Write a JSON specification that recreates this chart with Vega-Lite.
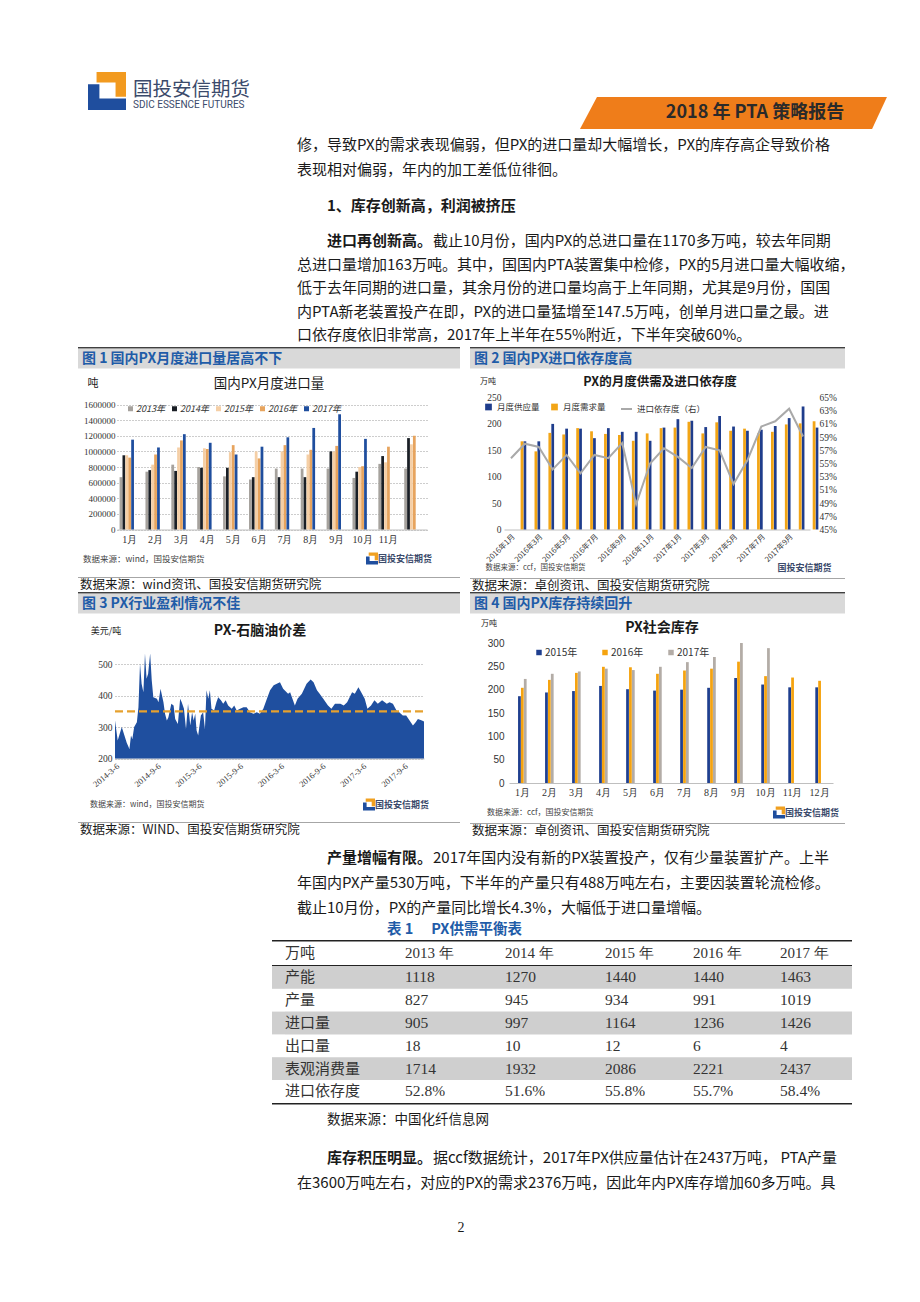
{
"$schema": "https://vega.github.io/schema/vega-lite/v6.json",
"background": "white",
"padding": {"left": 78, "top": 72, "right": 0, "bottom": 0},
"config": {
  "view": {"stroke": null},
  "font": "Noto Sans CJK SC",
  "text": {"font": "Noto Sans CJK SC", "color": "#1a1a1a"},
  "axis": {"labelColor": "#333333", "domainColor": "#bfbfbf", "ticks": false, "labelFont": "Liberation Serif"},
  "legend": {"labelFont": "Noto Sans CJK SC", "labelColor": "#333333"}
},
"datasets": {
  "imp": [
    {"m":"1月","yr":"2013年","v":670000},{"m":"1月","yr":"2014年","v":950000},{"m":"1月","yr":"2015年","v":950000},{"m":"1月","yr":"2016年","v":920000},{"m":"1月","yr":"2017年","v":1150000},
    {"m":"2月","yr":"2013年","v":740000},{"m":"2月","yr":"2014年","v":760000},{"m":"2月","yr":"2015年","v":830000},{"m":"2月","yr":"2016年","v":960000},{"m":"2月","yr":"2017年","v":1050000},
    {"m":"3月","yr":"2013年","v":830000},{"m":"3月","yr":"2014年","v":750000},{"m":"3月","yr":"2015年","v":1050000},{"m":"3月","yr":"2016年","v":1140000},{"m":"3月","yr":"2017年","v":1220000},
    {"m":"4月","yr":"2013年","v":800000},{"m":"4月","yr":"2014年","v":790000},{"m":"4月","yr":"2015年","v":1040000},{"m":"4月","yr":"2016年","v":1030000},{"m":"4月","yr":"2017年","v":1110000},
    {"m":"5月","yr":"2013年","v":680000},{"m":"5月","yr":"2014年","v":790000},{"m":"5月","yr":"2015年","v":990000},{"m":"5月","yr":"2016年","v":1080000},{"m":"5月","yr":"2017年","v":960000},
    {"m":"6月","yr":"2013年","v":640000},{"m":"6月","yr":"2014年","v":670000},{"m":"6月","yr":"2015年","v":1000000},{"m":"6月","yr":"2016年","v":910000},{"m":"6月","yr":"2017年","v":1060000},
    {"m":"7月","yr":"2013年","v":780000},{"m":"7月","yr":"2014年","v":670000},{"m":"7月","yr":"2015年","v":1000000},{"m":"7月","yr":"2016年","v":1080000},{"m":"7月","yr":"2017年","v":1180000},
    {"m":"8月","yr":"2013年","v":780000},{"m":"8月","yr":"2014年","v":670000},{"m":"8月","yr":"2015年","v":960000},{"m":"8月","yr":"2016年","v":1020000},{"m":"8月","yr":"2017年","v":1300000},
    {"m":"9月","yr":"2013年","v":780000},{"m":"9月","yr":"2014年","v":1000000},{"m":"9月","yr":"2015年","v":1000000},{"m":"9月","yr":"2016年","v":1070000},{"m":"9月","yr":"2017年","v":1475000},
    {"m":"10月","yr":"2013年","v":660000},{"m":"10月","yr":"2014年","v":740000},{"m":"10月","yr":"2015年","v":800000},{"m":"10月","yr":"2016年","v":810000},{"m":"10月","yr":"2017年","v":1160000},
    {"m":"11月","yr":"2013年","v":840000},{"m":"11月","yr":"2014年","v":940000},{"m":"11月","yr":"2015年","v":860000},{"m":"11月","yr":"2016年","v":1060000},
    {"m":"12月","yr":"2013年","v":780000},{"m":"12月","yr":"2014年","v":1170000},{"m":"12月","yr":"2015年","v":1090000},{"m":"12月","yr":"2016年","v":1200000}
  ],
  "sd": [
    {"d":"2016年1月","s":167,"dm":167,"r":0.558},{"d":"2016年2月","s":167,"dm":148,"r":0.580},{"d":"2016年3月","s":200,"dm":183,"r":0.575},
    {"d":"2016年4月","s":191,"dm":180,"r":0.541},{"d":"2016年5月","s":191,"dm":192,"r":0.563},{"d":"2016年6月","s":173,"dm":186,"r":0.535},
    {"d":"2016年7月","s":192,"dm":181,"r":0.563},{"d":"2016年8月","s":185,"dm":179,"r":0.558},{"d":"2016年9月","s":185,"dm":168,"r":0.581},
    {"d":"2016年10月","s":168,"dm":182,"r":0.488},{"d":"2016年11月","s":193,"dm":192,"r":0.550},{"d":"2016年12月","s":209,"dm":193,"r":0.573},
    {"d":"2017年1月","s":206,"dm":204,"r":0.560},{"d":"2017年2月","s":194,"dm":182,"r":0.543},{"d":"2017年3月","s":215,"dm":203,"r":0.575},
    {"d":"2017年4月","s":195,"dm":187,"r":0.570},{"d":"2017年5月","s":187,"dm":191,"r":0.519},{"d":"2017年6月","s":189,"dm":182,"r":0.555},
    {"d":"2017年7月","s":196,"dm":185,"r":0.606},{"d":"2017年8月","s":211,"dm":199,"r":0.614},{"d":"2017年9月","s":233,"dm":201,"r":0.633},
    {"d":"2017年10月","s":193,"dm":205,"r":0.591}
  ],
  "spread": [
    {"d":"2014-03-06","v":321},{"d":"2014-03-18","v":257},{"d":"2014-04-05","v":300},{"d":"2014-04-27","v":250},{"d":"2014-05-09","v":230},
    {"d":"2014-05-16","v":273},{"d":"2014-05-22","v":262},{"d":"2014-05-30","v":300},{"d":"2014-06-11","v":315},{"d":"2014-06-18","v":363},
    {"d":"2014-06-25","v":502},{"d":"2014-07-02","v":438},{"d":"2014-07-10","v":411},{"d":"2014-07-17","v":534},{"d":"2014-07-24","v":454},
    {"d":"2014-07-31","v":470},{"d":"2014-08-09","v":534},{"d":"2014-08-16","v":449},{"d":"2014-08-23","v":395},{"d":"2014-09-08","v":390},
    {"d":"2014-09-15","v":379},{"d":"2014-09-24","v":422},{"d":"2014-10-07","v":379},{"d":"2014-10-14","v":342},{"d":"2014-10-22","v":321},
    {"d":"2014-10-29","v":331},{"d":"2014-11-11","v":374},{"d":"2014-11-21","v":369},{"d":"2014-11-28","v":326},{"d":"2014-12-10","v":310},
    {"d":"2014-12-20","v":390},{"d":"2014-12-27","v":379},{"d":"2015-01-06","v":358},{"d":"2015-01-15","v":294},{"d":"2015-01-24","v":374},
    {"d":"2015-02-03","v":305},{"d":"2015-02-11","v":347},{"d":"2015-02-18","v":321},{"d":"2015-02-25","v":342},{"d":"2015-03-03","v":289},
    {"d":"2015-03-10","v":273},{"d":"2015-03-22","v":337},{"d":"2015-04-01","v":347},{"d":"2015-04-09","v":294},{"d":"2015-04-16","v":417},
    {"d":"2015-04-24","v":390},{"d":"2015-05-01","v":417},{"d":"2015-05-08","v":358},{"d":"2015-05-20","v":353},{"d":"2015-05-30","v":379},
    {"d":"2015-06-07","v":395},{"d":"2015-06-19","v":385},{"d":"2015-06-29","v":374},{"d":"2015-07-10","v":385},{"d":"2015-07-21","v":369},
    {"d":"2015-08-06","v":358},{"d":"2015-08-17","v":369},{"d":"2015-08-28","v":353},{"d":"2015-09-12","v":358},{"d":"2015-09-27","v":363},
    {"d":"2015-10-11","v":363},{"d":"2015-10-26","v":347},{"d":"2015-11-10","v":342},{"d":"2015-11-25","v":347},{"d":"2015-12-09","v":342},
    {"d":"2015-12-24","v":358},{"d":"2016-01-09","v":390},{"d":"2016-01-23","v":417},{"d":"2016-02-08","v":433},{"d":"2016-02-22","v":438},
    {"d":"2016-03-07","v":443},{"d":"2016-03-21","v":422},{"d":"2016-04-12","v":406},{"d":"2016-04-21","v":411},{"d":"2016-05-12","v":369},
    {"d":"2016-05-24","v":390},{"d":"2016-06-12","v":406},{"d":"2016-07-03","v":438},{"d":"2016-07-21","v":451},{"d":"2016-08-03","v":443},
    {"d":"2016-08-18","v":417},{"d":"2016-08-30","v":406},{"d":"2016-09-15","v":390},{"d":"2016-10-06","v":369},{"d":"2016-10-21","v":358},
    {"d":"2016-11-06","v":374},{"d":"2016-11-30","v":374},{"d":"2016-12-15","v":369},{"d":"2016-12-30","v":379},{"d":"2017-01-21","v":411},
    {"d":"2017-02-02","v":406},{"d":"2017-02-18","v":427},{"d":"2017-03-06","v":406},{"d":"2017-03-18","v":390},{"d":"2017-03-30","v":358},
    {"d":"2017-04-15","v":369},{"d":"2017-04-30","v":385},{"d":"2017-05-15","v":374},{"d":"2017-06-03","v":385},{"d":"2017-06-24","v":374},
    {"d":"2017-07-06","v":379},{"d":"2017-07-21","v":374},{"d":"2017-08-06","v":353},{"d":"2017-08-18","v":347},{"d":"2017-09-03","v":337},
    {"d":"2017-09-18","v":337},{"d":"2017-10-03","v":321},{"d":"2017-10-18","v":305},{"d":"2017-10-30","v":315},{"d":"2017-11-09","v":326},
    {"d":"2017-11-27","v":321},{"d":"2017-12-06","v":318}
  ],
  "inv": [
    {"m":"1月","yr":"2015年","v":186},{"m":"1月","yr":"2016年","v":204},{"m":"1月","yr":"2017年","v":223},
    {"m":"2月","yr":"2015年","v":194},{"m":"2月","yr":"2016年","v":221},{"m":"2月","yr":"2017年","v":234},
    {"m":"3月","yr":"2015年","v":197},{"m":"3月","yr":"2016年","v":236},{"m":"3月","yr":"2017年","v":239},
    {"m":"4月","yr":"2015年","v":208},{"m":"4月","yr":"2016年","v":249},{"m":"4月","yr":"2017年","v":245},
    {"m":"5月","yr":"2015年","v":201},{"m":"5月","yr":"2016年","v":248},{"m":"5月","yr":"2017年","v":242},
    {"m":"6月","yr":"2015年","v":198},{"m":"6月","yr":"2016年","v":234},{"m":"6月","yr":"2017年","v":249},
    {"m":"7月","yr":"2015年","v":200},{"m":"7月","yr":"2016年","v":241},{"m":"7月","yr":"2017年","v":259},
    {"m":"8月","yr":"2015年","v":204},{"m":"8月","yr":"2016年","v":245},{"m":"8月","yr":"2017年","v":270},
    {"m":"9月","yr":"2015年","v":225},{"m":"9月","yr":"2016年","v":260},{"m":"9月","yr":"2017年","v":300},
    {"m":"10月","yr":"2015年","v":211},{"m":"10月","yr":"2016年","v":229},{"m":"10月","yr":"2017年","v":289},
    {"m":"11月","yr":"2015年","v":205},{"m":"11月","yr":"2016年","v":226},
    {"m":"12月","yr":"2015年","v":205},{"m":"12月","yr":"2016年","v":219}
  ],
  "tbl": [
    {"r":0,"c0":"产能","c1":"1118","c2":"1270","c3":"1440","c4":"1440","c5":"1463"},
    {"r":1,"c0":"产量","c1":"827","c2":"945","c3":"934","c4":"991","c5":"1019"},
    {"r":2,"c0":"进口量","c1":"905","c2":"997","c3":"1164","c4":"1236","c5":"1426"},
    {"r":3,"c0":"出口量","c1":"18","c2":"10","c3":"12","c4":"6","c5":"4"},
    {"r":4,"c0":"表观消费量","c1":"1714","c2":"1932","c3":"2086","c4":"2221","c5":"2437"},
    {"r":5,"c0":"进口依存度","c1":"52.8%","c2":"51.6%","c3":"55.8%","c4":"55.7%","c5":"58.4%"}
  ]
},
"spacing": 0,
"vconcat": [
  {"spacing": 0, "hconcat": [
    {"width": 10, "height": 10, "data": {"values": []}, "mark": "rect", "encoding": {}},
    {"width": 38, "height": 38, "data": {"values": [{"k": 1}]}, "layer": [
      {"mark": {"type": "point", "shape": "M-1,-0.35H-0.4V0.4H1V1H-1Z", "size": 1444, "filled": true, "opacity": 1, "color": "#1f4e9e"}},
      {"mark": {"type": "point", "shape": "M-0.55,-1H1V0.3H0.45V-0.45H-0.55Z", "size": 1444, "filled": true, "opacity": 1, "color": "#f29a1f"}}
    ]},
    {"width": 7, "height": 10, "data": {"values": []}, "mark": "rect", "encoding": {}},
    {"spacing": 0, "vconcat": [
      {"width": 118, "height": 7, "data": {"values": []}, "mark": "rect", "encoding": {}},
      {"width": 118, "height": 19, "data": {"values": [{"t": "国投安信期货"}]}, "mark": {"type": "text", "align": "left", "fontSize": 19.5, "color": "#3b4a6b"}, "encoding": {"x": {"datum": 0, "type": "quantitative", "scale": {"domain": [0, 1]}, "axis": null}, "text": {"field": "t"}}},
      {"width": 118, "height": 12, "data": {"values": [{"t": "SDIC ESSENCE FUTURES"}]}, "mark": {"type": "text", "align": "left", "fontSize": 10, "font": "Roboto", "color": "#3b4a6b"}, "encoding": {"x": {"datum": 0, "type": "quantitative", "scale": {"domain": [0, 1]}, "axis": null}, "text": {"field": "t"}}}
    ]},
    {"width": 329, "height": 10, "data": {"values": []}, "mark": "rect", "encoding": {}},
    {"spacing": 0, "vconcat": [
      {"width": 270, "height": 25, "data": {"values": []}, "mark": "rect", "encoding": {}},
      {"width": 270, "height": 32, "data": {"values": [{"t": "2018 年 PTA 策略报告"}]}, "layer": [
        {"mark": {"type": "point", "shape": "M-0.903,-0.0914L0.754,-0.0914L0.669,0.0914L-1,0.0914Z", "size": 122500, "filled": true, "opacity": 1, "color": "#ef7d1a"}},
        {"mark": {"type": "text", "fontSize": 18, "fontWeight": "bold", "color": "#2a2a2a"}, "encoding": {"text": {"field": "t"}}}
      ]},
      {"width": 270, "height": 3, "data": {"values": []}, "mark": "rect", "encoding": {}}
    ]}
  ]},
  {"spacing": 0, "hconcat": [
    {"width": 219, "height": 10, "data": {"values": []}, "mark": "rect", "encoding": {}},
    {"width": 545, "height": 50, "data": {"values": [
      {"i": 0, "t": "修，导致PX的需求表现偏弱，但PX的进口量却大幅增长，PX的库存高企导致价格"},
      {"i": 1, "t": "表现相对偏弱，年内的加工差低位徘徊。"}
    ]}, "mark": {"type": "text", "align": "left", "fontSize": 15},
    "encoding": {"x": {"datum": 0, "type": "quantitative", "scale": {"domain": [0, 1]}, "axis": null}, "y": {"field": "i", "type": "ordinal", "axis": null}, "text": {"field": "t"}}}
  ]},
  {"spacing": 0, "hconcat": [
    {"width": 249, "height": 10, "data": {"values": []}, "mark": "rect", "encoding": {}},
    {"width": 515, "height": 47, "data": {"values": [{"t": "1、库存创新高，利润被挤压"}]}, "mark": {"type": "text", "align": "left", "fontSize": 15, "fontWeight": "bold"}, "encoding": {"x": {"datum": 0, "type": "quantitative", "scale": {"domain": [0, 1]}, "axis": null}, "text": {"field": "t"}}}
  ]},
  {"spacing": 0, "hconcat": [
    {"width": 219, "height": 10, "data": {"values": []}, "mark": "rect", "encoding": {}},
    {"spacing": 0, "vconcat": [
      {"spacing": 0, "hconcat": [
        {"width": 30, "height": 23.5, "data": {"values": []}, "mark": "rect", "encoding": {}},
        {"width": 105, "height": 23.5, "data": {"values": [{"t": "进口再创新高。"}]}, "mark": {"type": "text", "align": "left", "fontSize": 15, "fontWeight": "bold"}, "encoding": {"x": {"datum": 0, "type": "quantitative", "scale": {"domain": [0, 1]}, "axis": null}, "text": {"field": "t"}}},
        {"width": 410, "height": 23.5, "data": {"values": [{"t": "截止10月份，国内PX的总进口量在1170多万吨，较去年同期"}]}, "mark": {"type": "text", "align": "left", "fontSize": 15}, "encoding": {"x": {"datum": 0, "type": "quantitative", "scale": {"domain": [0, 1]}, "axis": null}, "text": {"field": "t"}}}
      ]},
      {"width": 545, "height": 94, "data": {"values": [
        {"i": 1, "t": "总进口量增加163万吨。其中，国国内PTA装置集中检修，PX的5月进口量大幅收缩，"},
        {"i": 2, "t": "低于去年同期的进口量，其余月份的进口量均高于上年同期，尤其是9月份，国国"},
        {"i": 3, "t": "内PTA新老装置投产在即，PX的进口量猛增至147.5万吨，创单月进口量之最。进"},
        {"i": 4, "t": "口依存度依旧非常高，2017年上半年在55%附近，下半年突破60%。"}
      ]}, "mark": {"type": "text", "align": "left", "fontSize": 15},
      "encoding": {"x": {"datum": 0, "type": "quantitative", "scale": {"domain": [0, 1]}, "axis": null}, "y": {"field": "i", "type": "ordinal", "axis": null}, "text": {"field": "t"}}}
    ]}
  ]},
  {"spacing": 10, "hconcat": [
    {"spacing": 0, "vconcat": [
      {"width": 382, "height": 1.5, "view": {"fill": "#404040", "stroke": null}, "data": {"values": []}, "mark": "rect", "encoding": {}},
      {"spacing": 0, "hconcat": [
        {"width": 4, "height": 19.5, "view": {"fill": "#d9d9d9", "stroke": null}, "data": {"values": []}, "mark": "rect", "encoding": {}},
        {"width": 378, "height": 19.5, "view": {"fill": "#d9d9d9", "stroke": null}, "data": {"values": [{"t": "图 1 国内PX月度进口量居高不下"}]}, "mark": {"type": "text", "align": "left", "fontSize": 14, "fontWeight": "bold", "color": "#1f5ca8"}, "encoding": {"x": {"datum": 0, "type": "quantitative", "scale": {"domain": [0, 1]}, "axis": null}, "text": {"field": "t"}}}
      ]},
      {"spacing": 0, "vconcat": [
        {"spacing": 0, "hconcat": [
          {"width": 30, "height": 30, "data": {"values": [{"t": "吨"}]}, "mark": {"type": "text", "fontSize": 11}, "encoding": {"text": {"field": "t"}}},
          {"width": 322, "height": 30, "data": {"values": [{"t": "国内PX月度进口量"}]}, "mark": {"type": "text", "fontSize": 13.5}, "encoding": {"text": {"field": "t"}}}
        ]},
        {"width": 382, "height": 150, "data": {"name": "imp"},
         "layer": [{"mark": {"type": "bar"},
         "encoding": {
           "x": {"field": "m", "type": "ordinal", "sort": ["1月","2月","3月","4月","5月","6月","7月","8月","9月","10月","11月","12月"], "scale": {"range": [39, 349], "paddingInner": 0.22, "paddingOuter": 0.1}, "axis": {"title": null, "labelAngle": 0, "offset": -19.5, "labelExpr": "datum.value == '12月' ? '' : datum.value", "labelFontSize": 10, "labelPadding": 5}},
           "xOffset": {"field": "yr", "type": "nominal", "sort": ["2013年","2014年","2015年","2016年","2017年"], "scale": {"paddingInner": 0.05}},
           "y": {"field": "v", "type": "quantitative", "scale": {"domain": [0, 1600000], "range": [130.5, 5.5], "nice": false}, "axis": {"title": null, "offset": -39, "values": [0,200000,400000,600000,800000,1000000,1200000,1400000,1600000], "format": "d", "domain": false, "grid": true, "gridDash": [1, 2], "gridColor": "#9a9a9a", "labelFontSize": 9, "labelPadding": 2}},
           "color": {"field": "yr", "type": "nominal", "scale": {"domain": ["2013年","2014年","2015年","2016年","2017年"], "range": ["#a6a29d","#1a1f26","#f5cfa6","#e7a45e","#1f4e9e"]}, "legend": {"orient": "none", "legendX": 48, "legendY": 5, "direction": "horizontal", "title": null, "symbolType": "square", "symbolSize": 25, "labelFontSize": 9, "labelFontStyle": "italic", "columnPadding": 5, "labelOffset": 1}}
         }}],
         "resolve": {"scale": {"color": "independent"}, "legend": {"color": "independent"}}},
        {"spacing": 0, "vconcat": [
          {"width": 1, "height": 3, "data": {"values": []}, "mark": "rect", "encoding": {}},
          {"spacing": 0, "hconcat": [
            {"width": 5, "height": 13, "data": {"values": []}, "mark": "rect", "encoding": {}},
            {"width": 280, "height": 13, "data": {"values": [{"t": "数据来源：wind，国投安信期货"}]}, "mark": {"type": "text", "align": "left", "fontSize": 8.5, "color": "#444444"}, "encoding": {"x": {"datum": 0, "type": "quantitative", "scale": {"domain": [0, 1]}, "axis": null}, "text": {"field": "t"}}},
            {"width": 3, "height": 13, "data": {"values": []}, "mark": "rect", "encoding": {}},
            {"width": 12, "height": 13, "data": {"values": [{"k": 1}]}, "layer": [
              {"mark": {"type": "point", "shape": "M-1,-0.35H-0.4V0.4H1V1H-1Z", "size": 144, "filled": true, "opacity": 1, "color": "#1f4e9e"}},
              {"mark": {"type": "point", "shape": "M-0.55,-1H1V0.3H0.45V-0.45H-0.55Z", "size": 144, "filled": true, "opacity": 1, "color": "#f0a020"}}
            ]},
            {"width": 66, "height": 13, "data": {"values": [{"t": " 国投安信期货"}]}, "mark": {"type": "text", "align": "left", "fontSize": 9, "fontWeight": "bold", "color": "#3b4a6b"}, "encoding": {"x": {"datum": 0, "type": "quantitative", "scale": {"domain": [0, 1]}, "axis": null}, "text": {"field": "t"}}}
          ]},
          {"width": 1, "height": 12, "data": {"values": []}, "mark": "rect", "encoding": {}}
        ]}
      ]},
      {"width": 382, "height": 1, "view": {"fill": "#a6a6a6", "stroke": null}, "data": {"values": []}, "mark": "rect", "encoding": {}},
      {"spacing": 0, "hconcat": [
        {"width": 2, "height": 11, "data": {"values": []}, "mark": "rect", "encoding": {}},
        {"width": 380, "height": 11, "data": {"values": [{"t": "数据来源：wind资讯、国投安信期货研究院"}]}, "mark": {"type": "text", "align": "left", "fontSize": 12.5}, "encoding": {"x": {"datum": 0, "type": "quantitative", "scale": {"domain": [0, 1]}, "axis": null}, "text": {"field": "t"}}}
      ]}
    ]},
    {"spacing": 0, "vconcat": [
      {"width": 375, "height": 1.5, "view": {"fill": "#404040", "stroke": null}, "data": {"values": []}, "mark": "rect", "encoding": {}},
      {"spacing": 0, "hconcat": [
        {"width": 4, "height": 19.5, "view": {"fill": "#d9d9d9", "stroke": null}, "data": {"values": []}, "mark": "rect", "encoding": {}},
        {"width": 371, "height": 19.5, "view": {"fill": "#d9d9d9", "stroke": null}, "data": {"values": [{"t": "图 2 国内PX进口依存度高"}]}, "mark": {"type": "text", "align": "left", "fontSize": 14, "fontWeight": "bold", "color": "#1f5ca8"}, "encoding": {"x": {"datum": 0, "type": "quantitative", "scale": {"domain": [0, 1]}, "axis": null}, "text": {"field": "t"}}}
      ]},
      {"spacing": 0, "vconcat": [
        {"spacing": 0, "vconcat": [
          {"width": 1, "height": 3, "data": {"values": []}, "mark": "rect", "encoding": {}},
          {"spacing": 0, "hconcat": [
            {"width": 8, "height": 20, "data": {"values": []}, "mark": "rect", "encoding": {}},
            {"width": 20, "height": 20, "data": {"values": [{"t": "万吨"}]}, "mark": {"type": "text", "fontSize": 8}, "encoding": {"text": {"field": "t"}}},
            {"width": 324, "height": 20, "data": {"values": [{"t": "PX的月度供需及进口依存度"}]}, "mark": {"type": "text", "fontSize": 12.5, "fontWeight": "bold"}, "encoding": {"text": {"field": "t"}}}
          ]}
        ]},
        {"width": 375, "height": 185, "data": {"name": "sd"},
         "encoding": {"x": {"field": "d", "type": "ordinal", "sort": null, "scale": {"range": [34, 340], "paddingInner": 0.3, "paddingOuter": 0.15}, "axis": {"offset": -48.5, "labelAngle": -45, "labelOverlap": false, "values": ["2016年1月","2016年3月","2016年5月","2016年7月","2016年9月","2016年11月","2017年1月","2017年3月","2017年5月","2017年7月","2017年9月"], "labelFontSize": 7.5, "labelPadding": 3, "labelFont": "Noto Sans CJK SC",
           "title": "数据来源：ccf，国投安信期货", "titleX": 15, "titleY": 38, "titleAnchor": "start", "titleAlign": "left", "titleBaseline": "middle", "titleFontSize": 7.5, "titleFontWeight": "normal", "titleColor": "#444444", "titleFont": "Noto Sans CJK SC"}}},
         "layer": [
           {"transform": [{"fold": ["s", "dm"], "as": ["k", "v"]}],
            "mark": {"type": "bar"},
            "encoding": {
              "xOffset": {"field": "k", "type": "nominal", "sort": ["s", "dm"]},
              "y": {"field": "v", "type": "quantitative", "scale": {"domain": [0, 250], "range": [136.5, 4.5], "nice": false}, "axis": {"title": null, "offset": -34, "values": [0,50,100,150,200,250], "domain": false, "grid": false, "labelFontSize": 9.5, "labelPadding": 3}},
              "color": {"field": "k", "type": "nominal", "scale": {"domain": ["s", "dm"], "range": ["#1f3d8c", "#f2a516"]}, "legend": {"orient": "none", "legendX": 14, "legendY": 9.5, "direction": "horizontal", "title": null, "symbolType": "square", "symbolSize": 45, "labelFontSize": 8.5, "labelExpr": "datum.value == 's' ? '月度供应量' : '月度需求量'", "columnPadding": 10}}
            }},
           {"mark": {"type": "line", "strokeWidth": 2},
            "encoding": {
              "y": {"field": "r", "type": "quantitative", "scale": {"domain": [0.45, 0.65], "range": [136.5, 4.5], "nice": false, "zero": false}, "axis": {"orient": "right", "offset": -30, "zindex": 1, "values": [0.45,0.47,0.49,0.51,0.53,0.55,0.57,0.59,0.61,0.63,0.65], "format": ".0%", "domain": false, "grid": false, "labelFontSize": 9.5, "labelPadding": 4,
                "title": "国投安信期货", "titleAngle": 0, "titleX": -38, "titleY": 174.5, "titleAlign": "left", "titleBaseline": "middle", "titleFontSize": 9, "titleFontWeight": "bold", "titleColor": "#3b4a6b", "titleFont": "Noto Sans CJK SC"}},
              "color": {"datum": "进口依存度（右）", "type": "nominal", "scale": {"range": ["#a9a9a9"]}, "legend": {"orient": "none", "legendX": 150, "legendY": 9.5, "title": null, "symbolType": "stroke", "symbolStrokeWidth": 2, "symbolSize": 120, "labelFontSize": 8.5}}
            }}
         ],
         "resolve": {"scale": {"y": "independent", "color": "independent"}}}
      ]},
      {"width": 375, "height": 1, "view": {"fill": "#a6a6a6", "stroke": null}, "data": {"values": []}, "mark": "rect", "encoding": {}},
      {"spacing": 0, "hconcat": [
        {"width": 2, "height": 11, "data": {"values": []}, "mark": "rect", "encoding": {}},
        {"width": 373, "height": 11, "data": {"values": [{"t": "数据来源：卓创资讯、国投安信期货研究院"}]}, "mark": {"type": "text", "align": "left", "fontSize": 12.5}, "encoding": {"x": {"datum": 0, "type": "quantitative", "scale": {"domain": [0, 1]}, "axis": null}, "text": {"field": "t"}}}
      ]}
    ]}
  ]},
  {"spacing": 10, "hconcat": [
    {"spacing": 0, "vconcat": [
      {"width": 382, "height": 1.5, "view": {"fill": "#404040", "stroke": null}, "data": {"values": []}, "mark": "rect", "encoding": {}},
      {"spacing": 0, "hconcat": [
        {"width": 4, "height": 19.5, "view": {"fill": "#d9d9d9", "stroke": null}, "data": {"values": []}, "mark": "rect", "encoding": {}},
        {"width": 378, "height": 19.5, "view": {"fill": "#d9d9d9", "stroke": null}, "data": {"values": [{"t": "图 3 PX行业盈利情况不佳"}]}, "mark": {"type": "text", "align": "left", "fontSize": 14, "fontWeight": "bold", "color": "#1f5ca8"}, "encoding": {"x": {"datum": 0, "type": "quantitative", "scale": {"domain": [0, 1]}, "axis": null}, "text": {"field": "t"}}}
      ]},
      {"spacing": 0, "vconcat": [
        {"spacing": 0, "vconcat": [
          {"width": 1, "height": 6, "data": {"values": []}, "mark": "rect", "encoding": {}},
          {"spacing": 0, "hconcat": [
            {"width": 12, "height": 21, "data": {"values": []}, "mark": "rect", "encoding": {}},
            {"width": 32, "height": 21, "data": {"values": [{"t": "美元/吨"}]}, "mark": {"type": "text", "fontSize": 9}, "encoding": {"text": {"field": "t"}}},
            {"width": 276, "height": 21, "data": {"values": [{"t": "PX-石脑油价差"}]}, "mark": {"type": "text", "fontSize": 14, "fontWeight": "bold"}, "encoding": {"text": {"field": "t"}}}
          ]}
        ]},
        {"width": 382, "height": 157,
         "layer": [
           {"data": {"name": "spread"}, "mark": {"type": "area", "color": "#1f4f9f", "opacity": 1},
            "encoding": {
              "x": {"field": "d", "type": "temporal", "scale": {"type": "utc", "domain": [{"year": 2014, "month": 3, "date": 6, "utc": true}, {"year": 2017, "month": 12, "date": 6, "utc": true}], "range": [37, 346]},
                    "axis": {"title": null, "offset": -39.5, "labelOverlap": false, "values": [
                      {"year": 2014, "month": 3, "date": 6, "utc": true}, {"year": 2014, "month": 6, "date": 6, "utc": true}, {"year": 2014, "month": 9, "date": 6, "utc": true}, {"year": 2014, "month": 12, "date": 6, "utc": true},
                      {"year": 2015, "month": 3, "date": 6, "utc": true}, {"year": 2015, "month": 6, "date": 6, "utc": true}, {"year": 2015, "month": 9, "date": 6, "utc": true}, {"year": 2015, "month": 12, "date": 6, "utc": true},
                      {"year": 2016, "month": 3, "date": 6, "utc": true}, {"year": 2016, "month": 6, "date": 6, "utc": true}, {"year": 2016, "month": 9, "date": 6, "utc": true}, {"year": 2016, "month": 12, "date": 6, "utc": true},
                      {"year": 2017, "month": 3, "date": 6, "utc": true}, {"year": 2017, "month": 6, "date": 6, "utc": true}, {"year": 2017, "month": 9, "date": 6, "utc": true}, {"year": 2017, "month": 12, "date": 6, "utc": true}],
                      "labelExpr": "utcFormat(datum.value, '%Y-%-m-%-d')", "labelAngle": -40, "labelFontSize": 8.5, "labelPadding": 3, "grid": false}},
              "y": {"field": "v", "type": "quantitative", "scale": {"domain": [200, 550], "range": [117.5, 7.5], "nice": false, "zero": false}, "axis": {"title": null, "offset": -37, "values": [200,250,300,350,400,450,500,550], "domain": false, "grid": true, "gridDash": [1, 2], "gridColor": "#9a9a9a", "labelFontSize": 9.5, "labelPadding": 3}},
              "y2": {"datum": 200}
            }},
           {"data": {"values": [{"k": 1}]}, "mark": {"type": "rule", "color": "#e6a12e", "strokeDash": [8, 4], "strokeWidth": 2.2},
            "encoding": {"y": {"datum": 350}, "x": {"datum": {"year": 2014, "month": 3, "date": 6, "utc": true}, "type": "temporal"}, "x2": {"datum": {"year": 2017, "month": 12, "date": 6, "utc": true}}}}
         ]},
        {"spacing": 0, "vconcat": [
          {"spacing": 0, "hconcat": [
            {"width": 12, "height": 13, "data": {"values": []}, "mark": "rect", "encoding": {}},
            {"width": 270, "height": 13, "data": {"values": [{"t": "数据来源：wind，国投安信期货"}]}, "mark": {"type": "text", "align": "left", "fontSize": 8, "color": "#444444"}, "encoding": {"x": {"datum": 0, "type": "quantitative", "scale": {"domain": [0, 1]}, "axis": null}, "text": {"field": "t"}}},
            {"width": 3, "height": 13, "data": {"values": []}, "mark": "rect", "encoding": {}},
            {"width": 12, "height": 13, "data": {"values": [{"k": 1}]}, "layer": [
              {"mark": {"type": "point", "shape": "M-1,-0.35H-0.4V0.4H1V1H-1Z", "size": 144, "filled": true, "opacity": 1, "color": "#1f4e9e"}},
              {"mark": {"type": "point", "shape": "M-0.55,-1H1V0.3H0.45V-0.45H-0.55Z", "size": 144, "filled": true, "opacity": 1, "color": "#f0a020"}}
            ]},
            {"width": 66, "height": 13, "data": {"values": [{"t": " 国投安信期货"}]}, "mark": {"type": "text", "align": "left", "fontSize": 9, "fontWeight": "bold", "color": "#3b4a6b"}, "encoding": {"x": {"datum": 0, "type": "quantitative", "scale": {"domain": [0, 1]}, "axis": null}, "text": {"field": "t"}}}
          ]},
          {"width": 1, "height": 11, "data": {"values": []}, "mark": "rect", "encoding": {}}
        ]}
      ]},
      {"width": 382, "height": 1, "view": {"fill": "#a6a6a6", "stroke": null}, "data": {"values": []}, "mark": "rect", "encoding": {}},
      {"spacing": 0, "hconcat": [
        {"width": 2, "height": 11, "data": {"values": []}, "mark": "rect", "encoding": {}},
        {"width": 380, "height": 11, "data": {"values": [{"t": "数据来源：WIND、国投安信期货研究院"}]}, "mark": {"type": "text", "align": "left", "fontSize": 12.5}, "encoding": {"x": {"datum": 0, "type": "quantitative", "scale": {"domain": [0, 1]}, "axis": null}, "text": {"field": "t"}}}
      ]}
    ]},
    {"spacing": 0, "vconcat": [
      {"width": 375, "height": 1.5, "view": {"fill": "#404040", "stroke": null}, "data": {"values": []}, "mark": "rect", "encoding": {}},
      {"spacing": 0, "hconcat": [
        {"width": 4, "height": 19.5, "view": {"fill": "#d9d9d9", "stroke": null}, "data": {"values": []}, "mark": "rect", "encoding": {}},
        {"width": 371, "height": 19.5, "view": {"fill": "#d9d9d9", "stroke": null}, "data": {"values": [{"t": "图 4 国内PX库存持续回升"}]}, "mark": {"type": "text", "align": "left", "fontSize": 14, "fontWeight": "bold", "color": "#1f5ca8"}, "encoding": {"x": {"datum": 0, "type": "quantitative", "scale": {"domain": [0, 1]}, "axis": null}, "text": {"field": "t"}}}
      ]},
      {"spacing": 0, "vconcat": [
        {"spacing": 0, "hconcat": [
          {"width": 8, "height": 24, "data": {"values": []}, "mark": "rect", "encoding": {}},
          {"spacing": 0, "vconcat": [
            {"width": 1, "height": 4, "data": {"values": []}, "mark": "rect", "encoding": {}},
            {"width": 22, "height": 12, "data": {"values": [{"t": "万吨"}]}, "mark": {"type": "text", "fontSize": 8}, "encoding": {"text": {"field": "t"}}}
          ]},
          {"spacing": 0, "vconcat": [
            {"width": 1, "height": 4, "data": {"values": []}, "mark": "rect", "encoding": {}},
            {"width": 324, "height": 20, "data": {"values": [{"t": "PX社会库存"}]}, "mark": {"type": "text", "fontSize": 14, "fontWeight": "bold"}, "encoding": {"text": {"field": "t"}}}
          ]}
        ]},
        {"width": 375, "height": 163, "data": {"name": "inv"},
         "layer": [{"mark": {"type": "bar"},
         "encoding": {
           "x": {"field": "m", "type": "ordinal", "sort": ["1月","2月","3月","4月","5月","6月","7月","8月","9月","10月","11月","12月"], "scale": {"range": [39, 363], "paddingInner": 0.25, "paddingOuter": 0.12}, "axis": {"title": null, "labelAngle": 0, "offset": -18, "labelFontSize": 10, "labelPadding": 4}},
           "xOffset": {"field": "yr", "type": "nominal", "sort": ["2015年","2016年","2017年"], "scale": {"paddingInner": 0.05}},
           "y": {"field": "v", "type": "quantitative", "scale": {"domain": [0, 300], "range": [145, 5], "nice": false}, "axis": {"title": null, "offset": -39, "values": [0,50,100,150,200,250,300], "domain": false, "grid": false, "labelFontSize": 10, "labelPadding": 5, "labelFont": "Liberation Sans"}},
           "color": {"field": "yr", "type": "nominal", "scale": {"domain": ["2015年","2016年","2017年"], "range": ["#1f3f8f","#f5a30f","#b3aca6"]}, "legend": {"orient": "none", "legendX": 64, "legendY": 9.5, "direction": "horizontal", "title": null, "symbolType": "square", "symbolSize": 30, "labelFontSize": 10, "columnPadding": 22, "labelOffset": 1}}
         }}],
         "resolve": {"scale": {"color": "independent"}, "legend": {"color": "independent"}}},
        {"spacing": 0, "vconcat": [
          {"width": 1, "height": 4.5, "data": {"values": []}, "mark": "rect", "encoding": {}},
          {"spacing": 0, "hconcat": [
            {"width": 17, "height": 13, "data": {"values": []}, "mark": "rect", "encoding": {}},
            {"width": 280, "height": 13, "data": {"values": [{"t": "数据来源：ccf，国投安信期货"}]}, "mark": {"type": "text", "align": "left", "fontSize": 8, "color": "#444444"}, "encoding": {"x": {"datum": 0, "type": "quantitative", "scale": {"domain": [0, 1]}, "axis": null}, "text": {"field": "t"}}},
            {"width": 6, "height": 13, "data": {"values": []}, "mark": "rect", "encoding": {}},
            {"width": 12, "height": 13, "data": {"values": [{"k": 1}]}, "layer": [
              {"mark": {"type": "point", "shape": "M-1,-0.35H-0.4V0.4H1V1H-1Z", "size": 144, "filled": true, "opacity": 1, "color": "#1f4e9e"}},
              {"mark": {"type": "point", "shape": "M-0.55,-1H1V0.3H0.45V-0.45H-0.55Z", "size": 144, "filled": true, "opacity": 1, "color": "#f0a020"}}
            ]},
            {"width": 58, "height": 13, "data": {"values": [{"t": " 国投安信期货"}]}, "mark": {"type": "text", "align": "left", "fontSize": 9, "fontWeight": "bold", "color": "#3b4a6b"}, "encoding": {"x": {"datum": 0, "type": "quantitative", "scale": {"domain": [0, 1]}, "axis": null}, "text": {"field": "t"}}}
          ]},
          {"width": 1, "height": 3.5, "data": {"values": []}, "mark": "rect", "encoding": {}}
        ]}
      ]},
      {"width": 375, "height": 1, "view": {"fill": "#a6a6a6", "stroke": null}, "data": {"values": []}, "mark": "rect", "encoding": {}},
      {"spacing": 0, "hconcat": [
        {"width": 2, "height": 11, "data": {"values": []}, "mark": "rect", "encoding": {}},
        {"width": 373, "height": 11, "data": {"values": [{"t": "数据来源：卓创资讯、国投安信期货研究院"}]}, "mark": {"type": "text", "align": "left", "fontSize": 12.5}, "encoding": {"x": {"datum": 0, "type": "quantitative", "scale": {"domain": [0, 1]}, "axis": null}, "text": {"field": "t"}}}
      ]}
    ]}
  ]},
  {"width": 1, "height": 8.75, "data": {"values": []}, "mark": "rect", "encoding": {}},
  {"spacing": 0, "hconcat": [
    {"width": 219, "height": 10, "data": {"values": []}, "mark": "rect", "encoding": {}},
    {"spacing": 0, "vconcat": [
      {"spacing": 0, "hconcat": [
        {"width": 30, "height": 24.5, "data": {"values": []}, "mark": "rect", "encoding": {}},
        {"width": 105, "height": 24.5, "data": {"values": [{"t": "产量增幅有限。"}]}, "mark": {"type": "text", "align": "left", "fontSize": 15, "fontWeight": "bold"}, "encoding": {"x": {"datum": 0, "type": "quantitative", "scale": {"domain": [0, 1]}, "axis": null}, "text": {"field": "t"}}},
        {"width": 410, "height": 24.5, "data": {"values": [{"t": "2017年国内没有新的PX装置投产，仅有少量装置扩产。上半"}]}, "mark": {"type": "text", "align": "left", "fontSize": 15}, "encoding": {"x": {"datum": 0, "type": "quantitative", "scale": {"domain": [0, 1]}, "axis": null}, "text": {"field": "t"}}}
      ]},
      {"width": 545, "height": 49, "data": {"values": [
        {"i": 1, "t": "年国内PX产量530万吨，下半年的产量只有488万吨左右，主要因装置轮流检修。"},
        {"i": 2, "t": "截止10月份，PX的产量同比增长4.3%，大幅低于进口量增幅。"}
      ]}, "mark": {"type": "text", "align": "left", "fontSize": 15},
      "encoding": {"x": {"datum": 0, "type": "quantitative", "scale": {"domain": [0, 1]}, "axis": null}, "y": {"field": "i", "type": "ordinal", "axis": null}, "text": {"field": "t"}}}
    ]}
  ]},
  {"spacing": 0, "hconcat": [
    {"width": 309, "height": 20, "data": {"values": []}, "mark": "rect", "encoding": {}},
    {"width": 250, "height": 20, "data": {"values": [{"t": "表 1　 PX供需平衡表"}]}, "mark": {"type": "text", "align": "left", "fontSize": 14.5, "fontWeight": "bold", "color": "#1f5ca8"}, "encoding": {"x": {"datum": 0, "type": "quantitative", "scale": {"domain": [0, 1]}, "axis": null}, "text": {"field": "t"}}}
  ]},
  {"spacing": 0, "hconcat": [
    {"width": 194, "height": 10, "data": {"values": []}, "mark": "rect", "encoding": {}},
    {"spacing": 0, "vconcat": [
      {"width": 580, "height": 1.5, "view": {"fill": "#222222", "stroke": null}, "data": {"values": []}, "mark": "rect", "encoding": {}},
      {"spacing": 0, "hconcat": [
        {"width": 13, "height": 22.5, "data": {"values": []}, "mark": "rect", "encoding": {}},
        {"width": 120, "height": 22.5, "data": {"values": [{"t": "万吨"}]}, "mark": {"type": "text", "align": "left", "fontSize": 15, "color": "#333333"}, "encoding": {"x": {"datum": 0, "type": "quantitative", "scale": {"domain": [0, 1]}, "axis": null}, "text": {"field": "t"}}},
        {"width": 100, "height": 22.5, "data": {"values": [{"t": "2013 年"}]}, "mark": {"type": "text", "align": "left", "fontSize": 15, "font": "Liberation Serif", "color": "#333333"}, "encoding": {"x": {"datum": 0, "type": "quantitative", "scale": {"domain": [0, 1]}, "axis": null}, "text": {"field": "t"}}},
        {"width": 100, "height": 22.5, "data": {"values": [{"t": "2014 年"}]}, "mark": {"type": "text", "align": "left", "fontSize": 15, "font": "Liberation Serif", "color": "#333333"}, "encoding": {"x": {"datum": 0, "type": "quantitative", "scale": {"domain": [0, 1]}, "axis": null}, "text": {"field": "t"}}},
        {"width": 88, "height": 22.5, "data": {"values": [{"t": "2015 年"}]}, "mark": {"type": "text", "align": "left", "fontSize": 15, "font": "Liberation Serif", "color": "#333333"}, "encoding": {"x": {"datum": 0, "type": "quantitative", "scale": {"domain": [0, 1]}, "axis": null}, "text": {"field": "t"}}},
        {"width": 87, "height": 22.5, "data": {"values": [{"t": "2016 年"}]}, "mark": {"type": "text", "align": "left", "fontSize": 15, "font": "Liberation Serif", "color": "#333333"}, "encoding": {"x": {"datum": 0, "type": "quantitative", "scale": {"domain": [0, 1]}, "axis": null}, "text": {"field": "t"}}},
        {"width": 72, "height": 22.5, "data": {"values": [{"t": "2017 年"}]}, "mark": {"type": "text", "align": "left", "fontSize": 15, "font": "Liberation Serif", "color": "#333333"}, "encoding": {"x": {"datum": 0, "type": "quantitative", "scale": {"domain": [0, 1]}, "axis": null}, "text": {"field": "t"}}}
      ]},
      {"width": 580, "height": 1, "view": {"fill": "#222222", "stroke": null}, "data": {"values": []}, "mark": "rect", "encoding": {}},
      {"spacing": 0, "hconcat": [
        {"width": 13, "height": 136.8, "data": {"name": "tbl"}, "transform": [{"filter": "datum.r % 2 == 0"}], "mark": {"type": "rect", "color": "#cfcfcf"}, "encoding": {"x": {"datum": 0, "type": "quantitative", "scale": {"domain": [0, 1]}, "axis": null}, "x2": {"datum": 1}, "y": {"field": "r", "type": "ordinal", "scale": {"domain": [0,1,2,3,4,5], "paddingInner": 0, "paddingOuter": 0}, "axis": null}}},
        {"width": 120, "height": 136.8, "data": {"name": "tbl"}, "encoding": {"x": {"datum": 0, "type": "quantitative", "scale": {"domain": [0, 1]}, "axis": null}, "y": {"field": "r", "type": "ordinal", "scale": {"domain": [0,1,2,3,4,5], "paddingInner": 0, "paddingOuter": 0}, "axis": null}}, "layer": [
          {"transform": [{"filter": "datum.r % 2 == 0"}], "mark": {"type": "rect", "color": "#cfcfcf"}, "encoding": {"x2": {"datum": 1}}},
          {"mark": {"type": "text", "align": "left", "fontSize": 15, "color": "#333333"}, "encoding": {"text": {"field": "c0"}}}
        ]},
        {"width": 100, "height": 136.8, "data": {"name": "tbl"}, "encoding": {"x": {"datum": 0, "type": "quantitative", "scale": {"domain": [0, 1]}, "axis": null}, "y": {"field": "r", "type": "ordinal", "scale": {"domain": [0,1,2,3,4,5], "paddingInner": 0, "paddingOuter": 0}, "axis": null}}, "layer": [
          {"transform": [{"filter": "datum.r % 2 == 0"}], "mark": {"type": "rect", "color": "#cfcfcf"}, "encoding": {"x2": {"datum": 1}}},
          {"mark": {"type": "text", "align": "left", "fontSize": 15.5, "font": "Liberation Serif", "color": "#333333"}, "encoding": {"text": {"field": "c1"}}}
        ]},
        {"width": 100, "height": 136.8, "data": {"name": "tbl"}, "encoding": {"x": {"datum": 0, "type": "quantitative", "scale": {"domain": [0, 1]}, "axis": null}, "y": {"field": "r", "type": "ordinal", "scale": {"domain": [0,1,2,3,4,5], "paddingInner": 0, "paddingOuter": 0}, "axis": null}}, "layer": [
          {"transform": [{"filter": "datum.r % 2 == 0"}], "mark": {"type": "rect", "color": "#cfcfcf"}, "encoding": {"x2": {"datum": 1}}},
          {"mark": {"type": "text", "align": "left", "fontSize": 15.5, "font": "Liberation Serif", "color": "#333333"}, "encoding": {"text": {"field": "c2"}}}
        ]},
        {"width": 88, "height": 136.8, "data": {"name": "tbl"}, "encoding": {"x": {"datum": 0, "type": "quantitative", "scale": {"domain": [0, 1]}, "axis": null}, "y": {"field": "r", "type": "ordinal", "scale": {"domain": [0,1,2,3,4,5], "paddingInner": 0, "paddingOuter": 0}, "axis": null}}, "layer": [
          {"transform": [{"filter": "datum.r % 2 == 0"}], "mark": {"type": "rect", "color": "#cfcfcf"}, "encoding": {"x2": {"datum": 1}}},
          {"mark": {"type": "text", "align": "left", "fontSize": 15.5, "font": "Liberation Serif", "color": "#333333"}, "encoding": {"text": {"field": "c3"}}}
        ]},
        {"width": 87, "height": 136.8, "data": {"name": "tbl"}, "encoding": {"x": {"datum": 0, "type": "quantitative", "scale": {"domain": [0, 1]}, "axis": null}, "y": {"field": "r", "type": "ordinal", "scale": {"domain": [0,1,2,3,4,5], "paddingInner": 0, "paddingOuter": 0}, "axis": null}}, "layer": [
          {"transform": [{"filter": "datum.r % 2 == 0"}], "mark": {"type": "rect", "color": "#cfcfcf"}, "encoding": {"x2": {"datum": 1}}},
          {"mark": {"type": "text", "align": "left", "fontSize": 15.5, "font": "Liberation Serif", "color": "#333333"}, "encoding": {"text": {"field": "c4"}}}
        ]},
        {"width": 72, "height": 136.8, "data": {"name": "tbl"}, "encoding": {"x": {"datum": 0, "type": "quantitative", "scale": {"domain": [0, 1]}, "axis": null}, "y": {"field": "r", "type": "ordinal", "scale": {"domain": [0,1,2,3,4,5], "paddingInner": 0, "paddingOuter": 0}, "axis": null}}, "layer": [
          {"transform": [{"filter": "datum.r % 2 == 0"}], "mark": {"type": "rect", "color": "#cfcfcf"}, "encoding": {"x2": {"datum": 1}}},
          {"mark": {"type": "text", "align": "left", "fontSize": 15.5, "font": "Liberation Serif", "color": "#333333"}, "encoding": {"text": {"field": "c5"}}}
        ]}
      ]},
      {"width": 580, "height": 1.5, "view": {"fill": "#222222", "stroke": null}, "data": {"values": []}, "mark": "rect", "encoding": {}}
    ]}
  ]},
  {"spacing": 0, "hconcat": [
    {"width": 249, "height": 30, "data": {"values": []}, "mark": "rect", "encoding": {}},
    {"width": 400, "height": 30, "data": {"values": [{"t": "数据来源：中国化纤信息网"}]}, "mark": {"type": "text", "align": "left", "fontSize": 13.5}, "encoding": {"x": {"datum": 0, "type": "quantitative", "scale": {"domain": [0, 1]}, "axis": null}, "text": {"field": "t"}}}
  ]},
  {"width": 1, "height": 10, "data": {"values": []}, "mark": "rect", "encoding": {}},
  {"spacing": 0, "hconcat": [
    {"width": 219, "height": 10, "data": {"values": []}, "mark": "rect", "encoding": {}},
    {"spacing": 0, "vconcat": [
      {"spacing": 0, "hconcat": [
        {"width": 30, "height": 25, "data": {"values": []}, "mark": "rect", "encoding": {}},
        {"width": 105, "height": 25, "data": {"values": [{"t": "库存积压明显。"}]}, "mark": {"type": "text", "align": "left", "fontSize": 15, "fontWeight": "bold"}, "encoding": {"x": {"datum": 0, "type": "quantitative", "scale": {"domain": [0, 1]}, "axis": null}, "text": {"field": "t"}}},
        {"width": 410, "height": 25, "data": {"values": [{"t": "据ccf数据统计，2017年PX供应量估计在2437万吨， PTA产量"}]}, "mark": {"type": "text", "align": "left", "fontSize": 15}, "encoding": {"x": {"datum": 0, "type": "quantitative", "scale": {"domain": [0, 1]}, "axis": null}, "text": {"field": "t"}}}
      ]},
      {"width": 545, "height": 25, "data": {"values": [
        {"i": 1, "t": "在3600万吨左右，对应的PX的需求2376万吨，因此年内PX库存增加60多万吨。具"}
      ]}, "mark": {"type": "text", "align": "left", "fontSize": 15},
      "encoding": {"x": {"datum": 0, "type": "quantitative", "scale": {"domain": [0, 1]}, "axis": null}, "y": {"field": "i", "type": "ordinal", "axis": null}, "text": {"field": "t"}}}
    ]}
  ]},
  {"width": 766, "height": 66, "data": {"values": [{"t": "2"}]}, "mark": {"type": "text", "fontSize": 14, "font": "Liberation Serif"}, "encoding": {"text": {"field": "t"}}}
]
}
